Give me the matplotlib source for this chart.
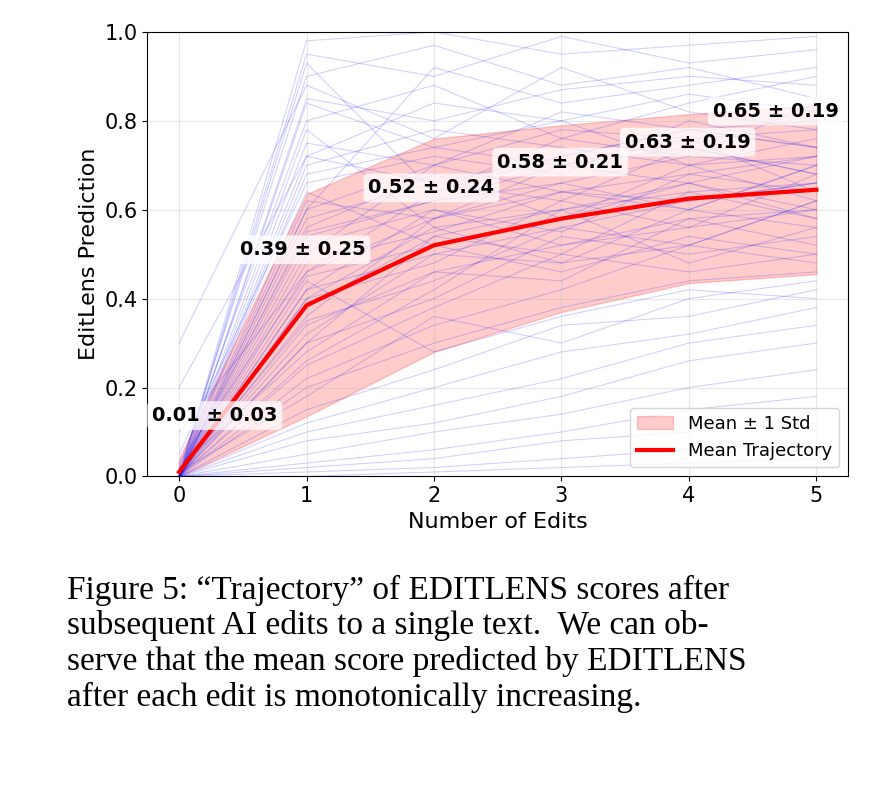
import matplotlib
matplotlib.use("Agg")
import matplotlib.pyplot as plt
import numpy as np


EDITS = [0, 1, 2, 3, 4, 5]
MEANS = [0.01, 0.385, 0.52, 0.58, 0.625, 0.645]
STDS = [0.03, 0.25, 0.24, 0.21, 0.19, 0.19]
LABELS = ["0.01 ± 0.03", "0.39 ± 0.25", "0.52 ± 0.24", "0.58 ± 0.21", "0.63 ± 0.19", "0.65 ± 0.19"]
LABEL_POS = [(0.28, 0.137), (0.97, 0.51), (1.98, 0.649), (2.99, 0.707), (3.99, 0.752), (4.68, 0.822)]

# a hand-read sample of the individual trajectories
TRAJECTORIES = [
    [0.00, 0.98, 1.00, 0.95, 0.97, 0.99],
    [0.00, 0.95, 0.90, 0.99, 0.93, 0.96],
    [0.01, 0.90, 0.97, 0.88, 0.92, 0.85],
    [0.00, 0.85, 0.80, 0.87, 0.90, 0.88],
    [0.02, 0.80, 0.88, 0.76, 0.84, 0.90],
    [0.00, 0.75, 0.70, 0.82, 0.78, 0.80],
    [0.00, 0.70, 0.78, 0.74, 0.70, 0.76],
    [0.05, 0.66, 0.72, 0.68, 0.80, 0.74],
    [0.00, 0.62, 0.58, 0.70, 0.66, 0.72],
    [0.00, 0.58, 0.66, 0.62, 0.74, 0.68],
    [0.01, 0.55, 0.62, 0.66, 0.60, 0.70],
    [0.00, 0.52, 0.60, 0.55, 0.68, 0.64],
    [0.00, 0.48, 0.55, 0.64, 0.62, 0.66],
    [0.03, 0.45, 0.52, 0.58, 0.70, 0.62],
    [0.00, 0.42, 0.60, 0.52, 0.58, 0.60],
    [0.00, 0.40, 0.48, 0.62, 0.56, 0.68],
    [0.00, 0.38, 0.54, 0.50, 0.64, 0.58],
    [0.01, 0.35, 0.44, 0.56, 0.52, 0.62],
    [0.00, 0.32, 0.50, 0.48, 0.60, 0.56],
    [0.00, 0.30, 0.40, 0.54, 0.50, 0.54],
    [0.02, 0.28, 0.46, 0.44, 0.58, 0.52],
    [0.00, 0.25, 0.38, 0.50, 0.46, 0.50],
    [0.00, 0.22, 0.34, 0.42, 0.52, 0.48],
    [0.00, 0.20, 0.30, 0.38, 0.44, 0.46],
    [0.01, 0.18, 0.36, 0.30, 0.40, 0.44],
    [0.00, 0.15, 0.24, 0.34, 0.36, 0.42],
    [0.00, 0.12, 0.20, 0.28, 0.32, 0.38],
    [0.00, 0.10, 0.16, 0.22, 0.30, 0.34],
    [0.00, 0.08, 0.12, 0.18, 0.26, 0.30],
    [0.00, 0.05, 0.10, 0.14, 0.20, 0.24],
    [0.00, 0.03, 0.06, 0.10, 0.15, 0.18],
    [0.00, 0.02, 0.04, 0.08, 0.10, 0.12],
    [0.00, 0.01, 0.02, 0.04, 0.06, 0.08],
    [0.00, 0.00, 0.01, 0.02, 0.03, 0.04],
    [0.30, 0.88, 0.76, 0.92, 0.82, 0.78],
    [0.20, 0.72, 0.84, 0.80, 0.86, 0.82],
    [0.00, 0.93, 0.64, 0.76, 0.72, 0.84],
    [0.00, 0.60, 0.92, 0.84, 0.88, 0.92],
    [0.00, 0.50, 0.70, 0.78, 0.76, 0.78],
    [0.10, 0.46, 0.64, 0.72, 0.78, 0.74],
    [0.00, 0.36, 0.58, 0.66, 0.72, 0.70],
    [0.00, 0.26, 0.42, 0.60, 0.64, 0.66],
    [0.00, 0.64, 0.52, 0.46, 0.54, 0.50],
    [0.00, 0.78, 0.56, 0.60, 0.48, 0.56],
    [0.00, 0.44, 0.28, 0.36, 0.42, 0.40],
    [0.00, 0.56, 0.68, 0.58, 0.66, 0.60],
    [0.00, 0.68, 0.74, 0.80, 0.70, 0.72],
    [0.00, 0.54, 0.62, 0.70, 0.76, 0.64],
    [0.00, 0.42, 0.50, 0.56, 0.62, 0.66],
    [0.00, 0.34, 0.46, 0.52, 0.56, 0.60],
    [0.00, 0.60, 0.70, 0.64, 0.60, 0.70],
    [0.00, 0.46, 0.58, 0.64, 0.68, 0.72],
    [0.00, 0.30, 0.54, 0.60, 0.66, 0.58],
    [0.00, 0.72, 0.66, 0.72, 0.78, 0.74],
    [0.00, 0.40, 0.56, 0.48, 0.52, 0.62],
    [0.00, 0.84, 0.74, 0.70, 0.74, 0.68],
]


def plot_trajectories(out_path: str = "out.png") -> str:
    fig = plt.figure(figsize=(8.92, 7.98), dpi=100)
    ax = fig.add_axes([0.165, 0.403, 0.786, 0.557])

    for traj in TRAJECTORIES:
        ax.plot(EDITS, traj, color="blue", alpha=0.18, linewidth=0.8)

    means = np.array(MEANS)
    stds = np.array(STDS)
    ax.fill_between(EDITS, np.clip(means - stds, 0, 1), np.clip(means + stds, 0, 1),
                    color="red", alpha=0.2, label="Mean ± 1 Std")
    ax.plot(EDITS, means, color="red", linewidth=3, label="Mean Trajectory")

    for (x, y), label in zip(LABEL_POS, LABELS):
        ax.text(x, y, label, ha="center", va="center",
                fontsize=14, fontweight="bold",
                bbox=dict(boxstyle="round,pad=0.25", facecolor="white",
                          edgecolor="none", alpha=0.75))

    ax.set_xlim(-0.25, 5.25)
    ax.set_ylim(0, 1)
    ax.set_xlabel("Number of Edits", fontsize=16)
    ax.set_ylabel("EditLens Prediction", fontsize=16)
    ax.tick_params(labelsize=15)
    ax.grid(alpha=0.3)
    ax.legend(loc="lower right", fontsize=13)

    caption = ("Figure 5: \u201cTrajectory\u201d of EDITLENS scores after\n"
               "subsequent AI edits to a single text.  We can ob-\n"
               "serve that the mean score predicted by EDITLENS\n"
               "after each edit is monotonically increasing.")
    fig.text(0.075, 0.28, caption, fontsize=24, family="Liberation Serif",
             va="top", ha="left", linespacing=1.2)

    fig.savefig(out_path, dpi=100)
    plt.close(fig)
    return out_path


if __name__ == "__main__":
    plot_trajectories()
